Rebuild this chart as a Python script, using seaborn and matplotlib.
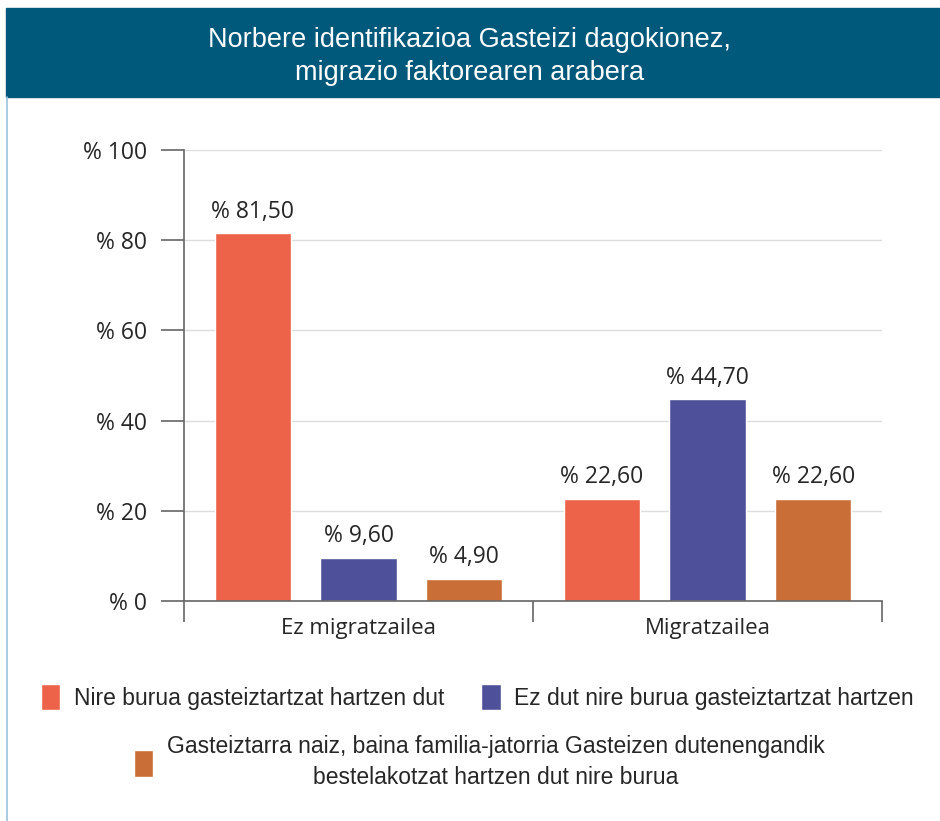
import numpy as np
import pandas as pd
import seaborn as sns
import matplotlib.pyplot as plt
from matplotlib.patches import Rectangle
from matplotlib.lines import Line2D

categories = ["Ez migratzailea", "Migratzailea"]
series = ["Nire burua gasteiztartzat hartzen dut",
          "Ez dut nire burua gasteiztartzat hartzen",
          "Gasteiztarra naiz, baina familia-jatorria Gasteizen dutenengandik\nbestelakotzat hartzen dut nire burua"]
values_ez = [81.5, 9.6, 4.9]
values_mig = [22.6, 44.7, 22.6]
yticks = [0, 20, 40, 60, 80, 100]
colors = ["#EC634A", "#4E5199", "#C96E37"]

df = pd.DataFrame({
    "cat": [categories[0]] * 3 + [categories[1]] * 3,
    "serie": series * 2,
    "val": values_ez + values_mig,
})

sns.set_style("white")
plt.rcParams['font.family'] = ['Open Sans', 'DejaVu Sans']
narrow = ['Liberation Sans Narrow', 'Liberation Sans', 'DejaVu Sans']

fig = plt.figure(figsize=(9.4, 8.21), dpi=100)
W, H = 940, 821
ax = fig.add_axes([184 / W, 1 - 601 / H, (882 - 184) / W, (601 - 150) / H])

sns.barplot(data=df, x="cat", y="val", hue="serie", palette=colors,
            width=0.91, gap=0.28, saturation=1, ax=ax, legend=True)

ax.set_ylim(0, 100)
ax.set_xlim(-0.5, 1.5)
ax.set_yticks(yticks)
ax.set_yticklabels([f"% {t}" for t in yticks], fontsize=16.5)
ax.yaxis.grid(True, color="#dddddd", linewidth=1)
ax.set_axisbelow(True)
ax.tick_params(axis="y", length=16.5, width=1.2, color="#666666", pad=10, left=True)
ax.set_xticks([0, 1])
ax.set_xticklabels(categories, fontsize=16)
ax.set_xticks([-0.5, 0.5, 1.5], minor=True)
ax.tick_params(axis="x", which="minor", length=15, width=1.2, color="#666666", bottom=True)
ax.tick_params(axis="x", which="major", length=0, pad=12)
ax.set_xlabel("")
ax.set_ylabel("")
for s in ["top", "right"]:
    ax.spines[s].set_visible(False)
for s in ["left", "bottom"]:
    ax.spines[s].set_color("#666666")
    ax.spines[s].set_linewidth(1.2)

for cont in ax.containers:
    ax.bar_label(cont, labels=[f"% {v:.2f}".replace(".", ",") for v in cont.datavalues],
                 padding=7, fontsize=16.5)

handles, labels = ax.get_legend_handles_labels()
ax.get_legend().remove()
leg1 = fig.legend(handles[:2], labels[:2], loc="center", bbox_to_anchor=(0.508, 1 - 697 / H),
                  ncol=2, frameon=False, prop={"family": narrow, "size": 16.5},
                  handlelength=0.85, handleheight=1.4, handletextpad=0.6, columnspacing=1.6)
leg2 = fig.legend(handles[2:], labels[2:], loc="center", bbox_to_anchor=(0.51, 1 - 762 / H),
                  frameon=False, prop={"family": narrow, "size": 16.5},
                  handlelength=0.85, handleheight=1.4, handletextpad=0.6)
for t in leg2.get_texts():
    t.set_multialignment("center")
    t.set_linespacing(1.45)

# header banner
fig.patches.append(Rectangle((6 / W, 1 - 97 / H), 1, 89 / H, transform=fig.transFigure,
                             color="#00587A", zorder=0))
fig.text(0.5, 1 - 40 / H, "Norbere identifikazioa Gasteizi dagokionez,", color="white",
         ha="center", va="center", family=narrow, fontsize=19.5)
fig.text(0.5, 1 - 73 / H, "migrazio faktorearen arabera", color="white",
         ha="center", va="center", family=narrow, fontsize=19.5)
fig.lines.append(Line2D([7 / W, 7 / W], [0, 1 - 97 / H], transform=fig.transFigure,
                        color="#9cc3dc", linewidth=1.2))

fig.savefig("out.png", dpi=100)
